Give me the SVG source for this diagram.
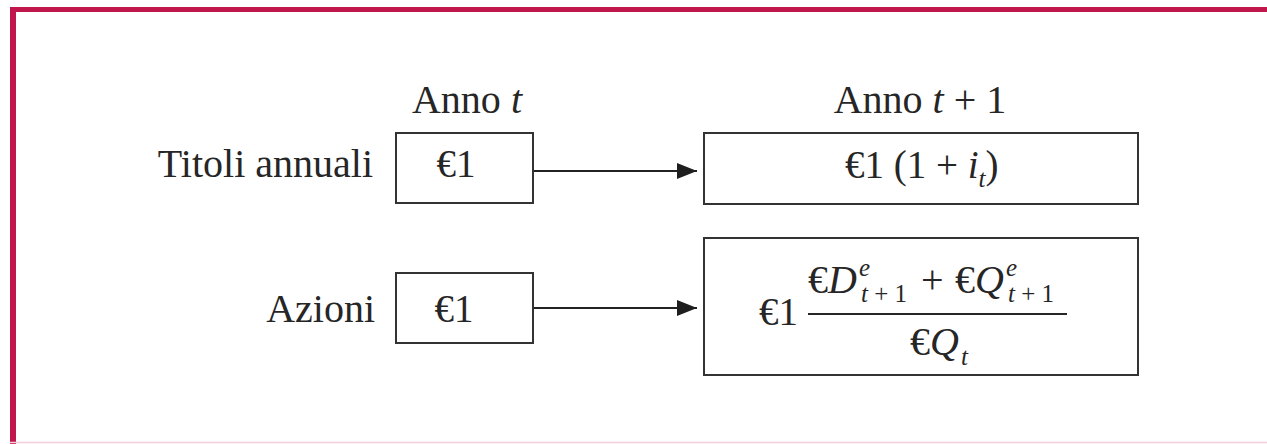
<svg xmlns="http://www.w3.org/2000/svg" width="1267" height="444" viewBox="0 0 1267 444">
  <defs>
    <marker id="arrow" viewBox="0 0 20 16" refX="20" refY="8" markerWidth="20" markerHeight="16" markerUnits="userSpaceOnUse" orient="auto">
      <path d="M0,0 L20,8 L0,16 Z" fill="#1e1e1e"/>
    </marker>
    <style>
      text { font-family: "Liberation Serif", "Times New Roman", serif; fill: #262626; }
      .lbl { font-size: 40px; }
      .val { font-size: 39px; }
      .big { font-size: 40px; }
      .sm { font-size: 25px; }
      .it { font-style: italic; }
      .box { fill: #ffffff; stroke: #333333; stroke-width: 2; }
      .conn { stroke: #222222; stroke-width: 2; fill: none; }
    </style>
  </defs>

  <rect width="1267" height="444" fill="#ffffff"/>

  <!-- frame -->
  <g id="frame">
    <line x1="10" y1="9.5" x2="1267" y2="9.5" stroke="#c0174c" stroke-width="5"/>
    <line x1="13" y1="7" x2="13" y2="444" stroke="#c0174c" stroke-width="6"/>
    <line x1="10" y1="442.5" x2="1267" y2="442.5" stroke="#f2cfdb" stroke-width="1.5"/>
  </g>

  <!-- column headings -->
  <g id="head-t">
    <text class="lbl" x="467" y="113" text-anchor="middle">Anno <tspan class="it">t</tspan></text>
  </g>
  <g id="head-t1">
    <text class="lbl" x="920" y="113" text-anchor="middle">Anno <tspan class="it">t</tspan> + 1</text>
  </g>

  <!-- row labels -->
  <g id="label-titoli">
    <text class="lbl" x="373" y="177" text-anchor="end">Titoli annuali</text>
  </g>
  <g id="label-azioni">
    <text class="lbl" x="375" y="322" text-anchor="end">Azioni</text>
  </g>

  <!-- connectors -->
  <g id="connectors">
    <line class="conn" x1="533" y1="171" x2="697" y2="171" marker-end="url(#arrow)"/>
    <line class="conn" x1="533" y1="308" x2="697" y2="308" marker-end="url(#arrow)"/>
  </g>

  <!-- bonds, year t -->
  <g id="bond-t">
    <rect class="box" x="396" y="133" width="137" height="70"/>
    <text class="val" x="456" y="177" text-anchor="middle">€1</text>
  </g>

  <!-- shares, year t -->
  <g id="share-t">
    <rect class="box" x="396" y="273" width="137" height="70"/>
    <text class="val" x="454" y="322" text-anchor="middle">€1</text>
  </g>

  <!-- bonds, year t+1 -->
  <g id="bond-t1">
    <rect class="box" x="704" y="133" width="434" height="71"/>
    <text class="val" x="845" y="178">€1 (1 + <tspan class="it">i</tspan><tspan class="sm it" dy="9">t</tspan><tspan dy="-9">)</tspan></text>
  </g>

  <!-- shares, year t+1 -->
  <g id="share-t1">
    <rect class="box" x="704" y="238" width="434" height="137"/>
    <text class="val" x="759" y="325">€1</text>
    <!-- numerator -->
    <text class="big" x="808" y="293">€<tspan class="it">D</tspan></text>
    <text class="sm it" x="859" y="276">e</text>
    <text class="sm" x="861" y="302"><tspan class="it">t</tspan> + 1</text>
    <text class="big" x="921" y="293">+</text>
    <text class="big" x="955" y="293">€<tspan class="it">Q</tspan></text>
    <text class="sm it" x="1006" y="276">e</text>
    <text class="sm" x="1008" y="302"><tspan class="it">t</tspan> + 1</text>
    <line x1="808" y1="314" x2="1067" y2="314" stroke="#262626" stroke-width="2"/>
    <!-- denominator -->
    <text class="big" x="910" y="355">€<tspan class="it">Q</tspan></text>
    <text class="sm it" x="961" y="365">t</text>
  </g>
</svg>
